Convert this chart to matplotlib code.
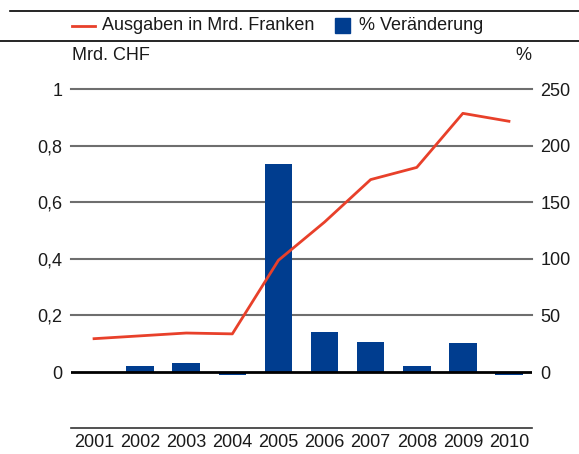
import matplotlib.pyplot as plt
from matplotlib.lines import Line2D
from matplotlib.patches import Rectangle

plt.rcParams['font.family'] = ['Liberation Sans', 'DejaVu Sans']

years = ['2001', '2002', '2003', '2004', '2005', '2006', '2007', '2008', '2009', '2010']
ausgaben = [0.118, 0.128, 0.138, 0.135, 0.395, 0.53, 0.68, 0.723, 0.914, 0.886]
veraenderung = [0, 5.8, 7.6, -2.5, 184, 35.7, 26.9, 5.8, 26, -3]
left_ticks = [0, 0.2, 0.4, 0.6, 0.8, 1.0]
left_labels = ['0', '0,2', '0,4', '0,6', '0,8', '1']
right_ticks = [0, 50, 100, 150, 200, 250]

txt = '#1a1a1a'
red = '#e8402a'
blue = '#003d8f'
fs = 13

fig = plt.figure(figsize=(5.79, 4.54), dpi=100)
ax2 = fig.add_axes([71/579, 1-428/454, (532-71)/579, (428-89)/454])
ax = ax2.twinx()
ax.set_zorder(ax2.get_zorder() + 1)
ax.patch.set_visible(False)

x = list(range(len(years)))

# bars (% change) on the right scale
ax2.bar(x, veraenderung, width=0.6, color=blue, zorder=2)
for t in right_ticks[1:]:
    ax2.axhline(t, color='#6e6e6e', lw=1.5, zorder=1, clip_on=False)
ax2.axhline(0, color='black', lw=2, zorder=3)
ax2.set_ylim(-0.1975*250, 250)
ax2.set_xlim(-0.5, len(years) - 0.5)

# line (Mrd. CHF) on the left scale
ax.plot(x, ausgaben, color=red, lw=2, zorder=4)
ax.set_ylim(-0.1975, 1.0)

ax.yaxis.tick_left()
ax2.yaxis.tick_right()
ax.set_yticks(left_ticks)
ax.set_yticklabels(left_labels)
ax2.set_yticks(right_ticks)
ax.tick_params(axis='y', length=0, pad=6, labelsize=fs, labelcolor=txt)
ax2.tick_params(axis='y', length=0, pad=6, labelsize=fs, labelcolor=txt)

for a in (ax, ax2):
    for s in ['top', 'left', 'right']:
        a.spines[s].set_visible(False)
ax.spines['bottom'].set_visible(False)
ax2.spines['bottom'].set_color('#333333')
ax2.spines['bottom'].set_linewidth(1.2)

ax2.set_xticks([i - 0.5 for i in range(len(years) + 1)])
ax2.set_xticklabels([])
ax2.set_xticks(x, minor=True)
ax2.set_xticklabels(years, minor=True)
ax2.tick_params(axis='x', which='major', direction='in', length=7, width=1.2, color='#333333')
ax2.tick_params(axis='x', which='minor', length=0, pad=4, labelsize=fs, labelcolor=txt)
ax.set_xticks([])

# header lines and legend
fig.add_artist(Line2D([10/579, 1], [1-11/454, 1-11/454], color='black', lw=1.2))
fig.add_artist(Line2D([0, 1], [1-41/454, 1-41/454], color='black', lw=1.2))
fig.add_artist(Line2D([72/579, 95/579], [1-26/454, 1-26/454], color=red, lw=2))
fig.text(102/579, 1-26/454, 'Ausgaben in Mrd. Franken', fontsize=fs, color=txt, va='center')
fig.add_artist(Rectangle((335/579, 1-33/454), 15/579, 15/454, color=blue, transform=fig.transFigure))
fig.text(359/579, 1-26/454, '% Veränderung', fontsize=fs, color=txt, va='center')
fig.text(72/579, 1-55/454, 'Mrd. CHF', fontsize=fs, color=txt, va='center')
fig.text(531/579, 1-55/454, '%', fontsize=fs, color=txt, va='center', ha='right')

fig.savefig('out.png', dpi=100)
